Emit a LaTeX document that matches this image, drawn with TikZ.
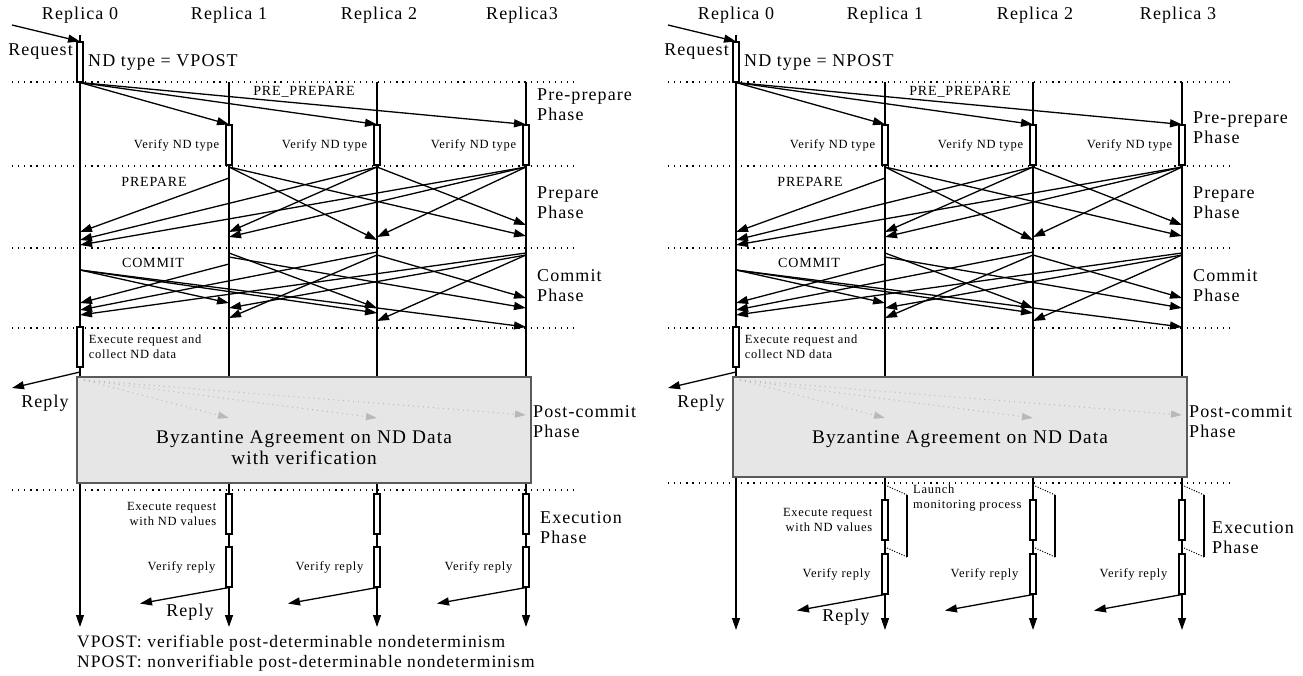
\documentclass[tikz,border=0pt]{standalone}
\usepackage{fontspec}
\setmainfont{Liberation Serif}[LetterSpace=6]
\usetikzlibrary{arrows.meta}

\definecolor{bagray}{RGB}{230,230,231}
\definecolor{baline}{RGB}{90,90,90}
\definecolor{hint}{RGB}{185,185,185}

\tikzset{
  life/.style={line width=1.3pt},
  msg/.style={line width=1.3pt,-{Triangle[length=12pt,width=8pt]}},
  hintmsg/.style={hint,line width=1pt,dash pattern=on 1pt off 4pt,-{Triangle[length=11pt,width=7pt]}},
  sep/.style={line width=1.2pt,dash pattern=on 1.2pt off 4.9pt},
  brk/.style={line width=1.1pt,dash pattern=on 1pt off 1.6pt},
  act/.style={draw,fill=white,line width=1.1pt,minimum width=6pt,minimum height=40pt,inner sep=0pt},
  big/.style={font=\fontsize{18}{20}\selectfont,inner sep=0pt},
  mid/.style={font=\fontsize{14}{15}\selectfont,inner sep=0pt},
  small/.style={font=\fontsize{12.5}{15}\selectfont,inner sep=0pt},
}

\begin{document}
\begin{tikzpicture}[x=1pt,y=-1pt]
\useasboundingbox (0,0) rectangle (1303,676);

% both panels share the agreement part
\foreach \dx/\pre/\nd/\rlast/\ppy/\bb/\sepy/\ende/\batext in
  {0/L/VPOST/Replica3/105/483/490/627/{Byzantine Agreement on ND Data\\with verification},
   656/R/NPOST/Replica 3/128/477/483/630/{Byzantine Agreement on ND Data}}{
\begin{scope}[xshift=\dx, name prefix=\pre-]
  \coordinate (r0) at (80,35);
  \coordinate (r1) at (229,82);
  \coordinate (r2) at (377,82);
  \coordinate (r3) at (526,82);
  \node[big] (n0) at (80,15) {Replica 0};
  \node[big] (n1) at (229,15) {Replica 1};
  \node[big] (n2) at (379,15) {Replica 2};
  \node[big] (n3) at (522,15) {\rlast};
  \foreach \i in {0,...,3}
    \draw[msg] (r\i) -- (r\i |- 0,\ende);
  \foreach \y in {82,166,248,328,\sepy}
    \draw[sep] (12,\y) -- (576,\y);

  % pre-prepare
  \coordinate (cl) at (12,25);
  \node[act] (rq) at (80,62) {};
  \draw[msg] (cl) -- (rq.north);
  \node[big,anchor=east] (reql) at (73,52) {Request};
  \node[big,anchor=west] (ndl) at (88,62) {ND type = \nd};
  \node[mid] (ppl) at (304,92) {PRE\_PREPARE};
  \foreach \i in {1,2,3} {
    \node[act] (v\i) at (r\i |- 0,145) {};
    \draw[msg] (rq.south) -- (v\i.north);
    \node[small,anchor=east] (vl\i) at ([xshift=-6pt]v\i.west) {Verify ND type};
  }

  % prepare
  \node[mid] (prl) at (154,182) {PREPARE};
  \foreach \a/\ya/\b/\yb in {1/178/0/232, 1/167/2/240, 1/167/3/236,
                             2/167/0/240, 2/167/1/232, 2/167/3/225,
                             3/167/0/245, 3/167/1/237, 3/167/2/237}
    \draw[msg] (r\a |- 0,\ya) -- (r\b |- 0,\yb);

  % commit
  \node[mid] (cml) at (153,263) {COMMIT};
  \foreach \a/\ya/\b/\yb in {0/270/1/303, 0/270/2/313, 0/270/3/327,
                             1/264/0/303, 1/253/2/308, 1/257/3/308,
                             2/252/0/310, 2/255/1/318, 2/255/3/298,
                             3/253/0/315, 3/255/1/308, 3/255/2/321}
    \draw[msg] (r\a |- 0,\ya) -- (r\b |- 0,\yb);

  % execute on replica 0
  \node[act] (ex0) at (80,347) {};
  \node[small,anchor=west,align=left] (exl) at ([xshift=5pt]ex0.east) {Execute request and\\collect ND data};
  \coordinate (rp0) at (80,372);
  \coordinate (cl2) at (12,388);
  \draw[msg] (rp0) -- (cl2);
  \node[big] (rpl0) at (45,403) {Reply};

  % post-commit
  \path[fill=bagray,draw=baline,line width=1.1pt] (77,377) rectangle (531,\bb);
  \coordinate (g0) at (84,380);
  \draw[hintmsg] (g0) -- (r1 |- 0,418);
  \draw[hintmsg] (g0) -- (r2 |- 0,418);
  \draw[hintmsg] (g0) -- (r3 |- 0,415);
  \node[font=\fontsize{19.3}{21}\selectfont,align=center,anchor=north,inner sep=0pt] (bal) at (304,431) {\batext};

  \node[big,align=left,anchor=west] (ph1) at (537,\ppy) {Pre-prepare\\Phase};
  \node[big,align=left,anchor=west] (ph2) at (537,203) {Prepare\\Phase};
  \node[big,align=left,anchor=west] (ph3) at (537,286) {Commit\\Phase};
  \node[big,align=left,anchor=west] (ph4) at (533,422) {Post-commit\\Phase};
\end{scope}
}

% execution, left
\foreach \i in {1,2,3} {
  \node[act] (L-e\i) at (L-r\i |- 0,514) {};
  \node[act] (L-w\i) at (L-r\i |- 0,567) {};
  \node[small,anchor=east] (L-wl\i) at ([xshift=-10pt]L-w\i.west) {Verify reply};
  \coordinate (L-c\i) at ([xshift=-89pt,yshift=-16pt]L-w\i.south);
  \draw[msg] (L-w\i.south) -- (L-c\i);
}
\node[small,anchor=east,align=right] (L-el) at ([xshift=-9pt]L-e1.west) {Execute request\\with ND values};
\node[big] (L-rpl) at (190,612) {Reply};
\node[big,anchor=west,align=left] (L-ph5) at (540,528) {Execution\\Phase};
\node[font=\fontsize{17.5}{20.5}\selectfont,anchor=west,align=left,inner sep=0pt] (notes) at (77,653) {VPOST: verifiable post-determinable nondeterminism\\NPOST: nonverifiable post-determinable nondeterminism};

% execution, right
\foreach \i in {1,2,3} {
  \node[act] (R-e\i) at (R-r\i |- 0,520) {};
  \node[act] (R-w\i) at (R-r\i |- 0,574) {};
  \node[small,anchor=east] (R-wl\i) at ([xshift=-11pt]R-w\i.west) {Verify reply};
  \coordinate (R-c\i) at ([xshift=-88pt,yshift=-16pt]R-w\i.south);
  \draw[msg] (R-w\i.south) -- (R-c\i);
  \path (R-r\i |- 0,485) coordinate (R-k\i) ++(22,10) coordinate (R-kt\i)
        ++(0,62) coordinate (R-kb\i) ++(-22,-10) coordinate (R-kr\i);
  \draw[brk] (R-k\i) -- (R-kt\i);
  \draw[life] (R-kt\i) -- (R-kb\i);
  \draw[brk] (R-kb\i) -- (R-kr\i);
}
\node[small,anchor=west,align=left] (R-ll) at (913,498) {Launch\\monitoring process};
\node[small,anchor=east,align=right] (R-el) at ([xshift=-9pt]R-e1.west) {Execute request\\with ND values};
\node[big] (R-rpl) at (846,617) {Reply};
\node[big,anchor=west,align=left] (R-ph5) at (1212,538) {Execution\\Phase};
\end{tikzpicture}
\end{document}
